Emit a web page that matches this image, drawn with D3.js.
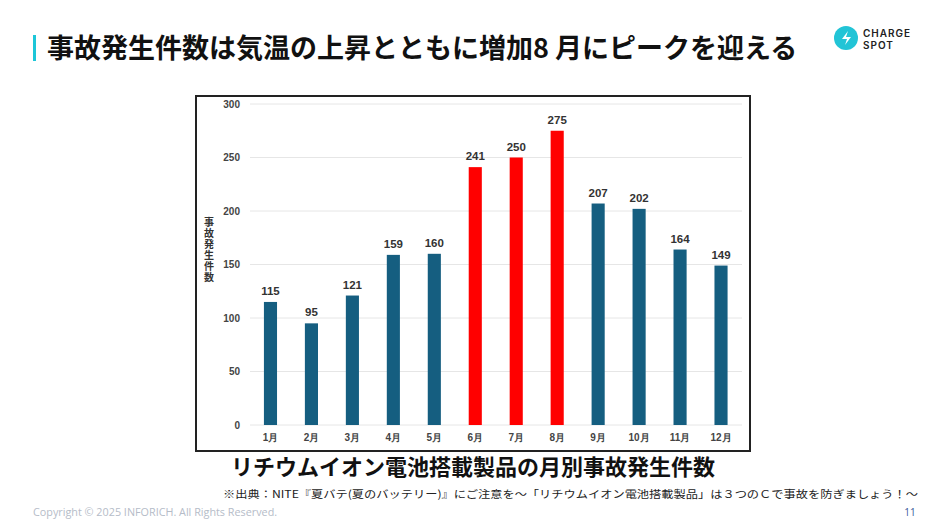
<!DOCTYPE html>
<html>
<head>
<meta charset="utf-8">
<script src="https://cdn.jsdelivr.net/npm/d3@7"></script>
<style>
  html, body { margin: 0; padding: 0; background: #fff; }
  svg { display: block; font-family: "Noto Sans CJK JP", "Noto Sans", sans-serif; }
</style>
</head>
<body>
<svg id="chart" width="943" height="528"></svg>
<script>
const months = ["1月", "2月", "3月", "4月", "5月", "6月", "7月", "8月", "9月", "10月", "11月", "12月"];
const counts = [115, 95, 121, 159, 160, 241, 250, 275, 207, 202, 164, 149];
const summerMonths = ["6月", "7月", "8月"];
const yTicks = [0, 50, 100, 150, 200, 250, 300];

const width = 943, height = 528;
const margin = { top: 104, right: 202, bottom: 103, left: 250 };

const svg = d3.select("svg#chart");

// PAGE HEADER
svg.append("rect")
    .attr("x", 33).attr("y", 35).attr("width", 3).attr("height", 26)
    .attr("fill", "#1cc6d8");

svg.append("text")
    .attr("x", 47).attr("y", 58)
    .attr("font-size", 27).attr("font-weight", 700).attr("fill", "#111")
    .text("事故発生件数は気温の上昇とともに増加8 月にピークを迎える");

// LOGO
const logo = svg.append("g").attr("transform", "translate(846,38)");
logo.append("circle").attr("r", 12).attr("fill", "#22c4d6");
logo.append("path")
    .attr("d", "M2,-7 L-4,1 L1,1 L-1,7 L5,-1 L0,-1 Z")
    .attr("fill", "#fff");
svg.append("text")
    .attr("x", 863).attr("y", 37)
    .attr("font-family", "Inter, sans-serif").attr("font-size", 10).attr("font-weight", 600)
    .attr("letter-spacing", 1).attr("fill", "#222")
    .text("CHARGE");
svg.append("text")
    .attr("x", 863).attr("y", 49)
    .attr("font-family", "Inter, sans-serif").attr("font-size", 10).attr("font-weight", 600)
    .attr("letter-spacing", 1).attr("fill", "#222")
    .text("SPOT");

// CHART FRAME
svg.append("rect")
    .attr("x", 196).attr("y", 96).attr("width", 554).attr("height", 355)
    .attr("fill", "#fff").attr("stroke", "#222").attr("stroke-width", 2);

// SCALES
const xScale = d3.scaleBand()
    .domain(months)
    .range([margin.left, width - margin.right + 0.5])
    .paddingInner(0.68)
    .paddingOuter(0.34);

const yScale = d3.scaleLinear()
    .domain([0, 300])
    .range([height - margin.bottom, margin.top]);

// GRID
svg.append("g")
    .selectAll("line")
    .data(yTicks)
    .join("line")
    .attr("x1", margin.left).attr("x2", 742)
    .attr("y1", d => yScale(d)).attr("y2", d => yScale(d))
    .attr("stroke", "#e6e6e6").attr("stroke-width", 1);

// AXES
const yAxis = g => g.attr("transform", `translate(${margin.left - 8},0)`)
    .call(d3.axisLeft(yScale).tickValues(yTicks).tickSize(0).tickPadding(2))
    .call(g => g.select(".domain").remove())
    .call(g => g.selectAll("text")
        .attr("font-size", 10).attr("font-weight", 700).attr("fill", "#444")
        .attr("font-family", "\"Liberation Sans Narrow\", \"Liberation Sans\", sans-serif"));

const xAxis = g => g.attr("transform", `translate(0,${height - margin.bottom})`)
    .call(d3.axisBottom(xScale).tickSize(0).tickPadding(9))
    .call(g => g.select(".domain").remove())
    .call(g => g.selectAll("text")
        .attr("font-size", 10).attr("font-weight", 700).attr("fill", "#444"));

svg.append("g").call(yAxis);
svg.append("g").call(xAxis);

// Y AXIS TITLE (vertical)
svg.append("text")
    .attr("x", 209).attr("y", 217)
    .attr("writing-mode", "vertical-rl")
    .attr("text-orientation", "upright")
    .attr("letter-spacing", 1)
    .attr("font-size", 10).attr("font-weight", 700).attr("fill", "#333")
    .text("事故発生件数");

// BARS
const data = months.map((m, i) => ({ month: m, value: counts[i] }));

svg.append("g")
    .selectAll("rect")
    .data(data)
    .join("rect")
    .attr("x", d => xScale(d.month))
    .attr("y", d => yScale(d.value))
    .attr("width", xScale.bandwidth())
    .attr("height", d => yScale(0) - yScale(d.value))
    .attr("fill", d => summerMonths.includes(d.month) ? "#ff0000" : "#155e80");

// VALUE LABELS
svg.append("g")
    .selectAll("text")
    .data(data)
    .join("text")
    .attr("x", d => xScale(d.month) + xScale.bandwidth() / 2)
    .attr("y", d => yScale(d.value) - 7)
    .attr("text-anchor", "middle")
    .attr("font-family", "\"Liberation Sans Narrow\", \"Liberation Sans\", sans-serif")
    .attr("font-size", 11.5).attr("font-weight", 700).attr("fill", "#333")
    .text(d => d.value);

// CHART CAPTION
svg.append("text")
    .attr("x", 473).attr("y", 475)
    .attr("text-anchor", "middle")
    .attr("font-size", 22).attr("font-weight", 700).attr("fill", "#111")
    .text("リチウムイオン電池搭載製品の月別事故発生件数");

// SOURCE
svg.append("text")
    .attr("x", 223).attr("y", 498)
    .attr("font-size", 10.5).attr("fill", "#222")
    .attr("textLength", 695).attr("lengthAdjust", "spacingAndGlyphs")
    .text("※出典：NITE『夏バテ(夏のバッテリー)』にご注意を～「リチウムイオン電池搭載製品」は３つのＣで事故を防ぎましょう！～");

// FOOTER
svg.append("text")
    .attr("x", 33).attr("y", 516)
    .attr("font-family", "\"Open Sans\", sans-serif")
    .attr("font-size", 10.8).attr("fill", "#b5bcc8")
    .text("Copyright © 2025 INFORICH. All Rights Reserved.");

svg.append("text")
    .attr("x", 910).attr("y", 516)
    .attr("text-anchor", "middle")
    .attr("font-family", "\"Open Sans\", sans-serif")
    .attr("font-size", 10).attr("fill", "#3a5a9a")
    .text("11");
</script>
</body>
</html>
